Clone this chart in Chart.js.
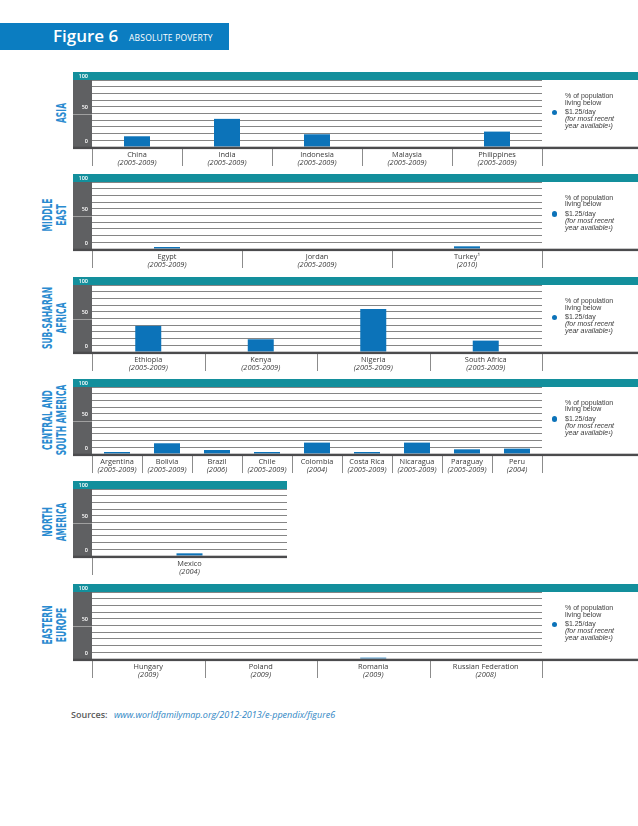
<!DOCTYPE html>
<html>
<head>
<meta charset="utf-8">
<script src="https://cdn.jsdelivr.net/npm/chart.js@4.4.0/dist/chart.umd.min.js"></script>
<style>
  html, body { margin: 0; padding: 0; background: #fff; }
  body { width: 638px; height: 826px; position: relative; overflow: hidden; font-family: "Open Sans", sans-serif; }
  #header { position: absolute; left: 0; top: 23px; width: 229px; height: 27px; background: #0b7dc1; }
  #header .fig { position: absolute; left: 53px; top: 2px; color: #fff; font: 600 17px/22px "Open Sans", sans-serif; }
  #header .ttl { position: absolute; left: 129px; top: 9px; color: #fff; font: 8.5px/12px "Open Sans", sans-serif; letter-spacing: 0.2px; }
  .panel { position: absolute; left: 73px; height: 96px; }
  .region { position: absolute; text-align: center; color: #2a8bd0; white-space: nowrap;
            font-family: "DejaVu Sans Condensed", "DejaVu Sans", sans-serif; font-stretch: condensed;
            font-weight: bold; font-size: 14px; line-height: 14px; width: 120px;
            transform: rotate(-90deg) scaleX(0.6); transform-origin: center; }
  .legend { position: absolute; left: 565px; font: 7px/8px "Liberation Sans", Arial, sans-serif; color: #3c3c3c; }
  .legend div { position: absolute; left: 0; white-space: nowrap; }
  .legend .dot { position: absolute; left: -13.5px; width: 5.5px; height: 5.5px; border-radius: 50%; background: #0c73b9; }
  #sources { position: absolute; left: 71px; top: 709px; font: 600 9px/12px "Open Sans", sans-serif; color: #5a5a5a; }
  #sources i { font-weight: normal; color: #2f86c4; margin-left: 4px; }
</style>
</head>
<body>
<div id="header"><span class="fig">Figure 6</span><span class="ttl">ABSOLUTE POVERTY</span></div>
<div id="sources">Sources: <i>www.worldfamilymap.org/2012-2013/e-ppendix/figure6</i></div>

<script>
// ---- data ----
const yTicks = [0, 50, 100];

const asiaCountries = ['China', 'India', 'Indonesia', 'Malaysia', 'Philippines'];
const asiaYears = ['(2005-2009)', '(2005-2009)', '(2005-2009)', '(2005-2009)', '(2005-2009)'];
const asiaValues = [16, 42, 19, 0, 23];

const meCountries = ['Egypt', 'Jordan', 'Turkey¹'];
const meYears = ['(2005-2009)', '(2005-2009)', '(2010)'];
const meValues = [3, 0, 4];

const ssaCountries = ['Ethiopia', 'Kenya', 'Nigeria', 'South Africa'];
const ssaYears = ['(2005-2009)', '(2005-2009)', '(2005-2009)', '(2005-2009)'];
const ssaValues = [39, 19, 64, 17];

const latCountries = ['Argentina', 'Bolivia', 'Brazil', 'Chile', 'Colombia', 'Costa Rica', 'Nicaragua', 'Paraguay', 'Peru'];
const latYears = ['(2005-2009)', '(2005-2009)', '(2006)', '(2005-2009)', '(2004)', '(2005-2009)', '(2005-2009)', '(2005-2009)', '(2004)'];
const latValues = [3, 16, 6, 3, 17, 3, 17, 7, 8];

const naCountries = ['Mexico'];
const naYears = ['(2004)'];
const naValues = [4];

const eeCountries = ['Hungary', 'Poland', 'Romania', 'Russian Federation'];
const eeYears = ['(2009)', '(2009)', '(2009)', '(2008)'];
const eeValues = [0, 0, 2, 0];

const legendLines = ['% of population', 'living below', '$1.25/day', '(for most recent', 'year available¹)'];

// teal band, grey value column, separators, baseline, category labels
const panelDecor = {
    id: 'panelDecor',
    beforeDraw(chart) {
        const ctx = chart.ctx;
        const a = chart.chartArea;
        const y = chart.scales.y;
        const zero = y.getPixelForValue(0);
        ctx.save();
        ctx.fillStyle = '#138f9c';
        ctx.fillRect(0, 0, chart.width, a.top);
        ctx.fillStyle = '#5f6062';
        ctx.fillRect(0, a.top, a.left, zero - a.top);
        ctx.strokeStyle = '#a0a0a0';
        ctx.lineWidth = 1;
        const y50 = Math.round(y.getPixelForValue(50)) + 0.5;
        ctx.beginPath();
        ctx.moveTo(0, y50);
        ctx.lineTo(a.left, y50);
        ctx.stroke();
        ctx.restore();
    },
    afterDatasetsDraw(chart, args, opts) {
        const ctx = chart.ctx;
        const y = chart.scales.y;
        const x = chart.scales.x;
        const zero = y.getPixelForValue(0);
        const n = chart.data.labels.length;
        ctx.save();
        // separators between categories
        ctx.strokeStyle = '#8c8c8c';
        ctx.lineWidth = 1;
        for (let k = 0; k <= n; k++) {
            const px = Math.round(x.getPixelForValue(k - 0.5)) + 0.5;
            ctx.beginPath();
            ctx.moveTo(px, zero);
            ctx.lineTo(px, chart.height - 2);
            ctx.stroke();
        }
        // dark baseline
        ctx.fillStyle = '#4b4b4d';
        ctx.fillRect(0, zero - 0.3, chart.width, 2.4);
        // value labels
        ctx.fillStyle = '#ffffff';
        ctx.font = '600 5.5px "Open Sans"';
        ctx.textAlign = 'right';
        ctx.textBaseline = 'middle';
        yTicks.forEach(function (v) {
            const py = v === 100 ? chart.chartArea.top / 2 : y.getPixelForValue(v) - 6;
            ctx.fillText(String(v), 15, py);
        });
        // category names and years
        ctx.fillStyle = '#3a3a3a';
        ctx.textAlign = 'center';
        chart.data.labels.forEach(function (name, i) {
            const px = x.getPixelForValue(i);
            ctx.font = '7.4px "Open Sans"';
            ctx.fillText(name, px, zero + 7.5);
            ctx.font = 'italic 7.4px "Open Sans"';
            ctx.fillText(opts.years[i], px, zero + 15.5);
        });
        ctx.restore();
    }
};

function addPanel(top, width, rightPad, names, years, values, region, legend) {
    const box = document.createElement('div');
    box.className = 'panel';
    box.style.top = top + 'px';
    box.style.width = width + 'px';
    const canvas = document.createElement('canvas');
    box.appendChild(canvas);
    document.body.appendChild(box);

    new Chart(canvas.getContext('2d'), {
        type: 'bar',
        data: {
            labels: names,
            datasets: [{
                data: values,
                backgroundColor: '#0c73b9',
                borderWidth: 0,
                inflateAmount: 0,
                barThickness: 26
            }]
        },
        options: {
            responsive: true,
            maintainAspectRatio: false,
            animation: false,
            layout: { padding: { left: 19, right: rightPad, top: 8, bottom: 21 } },
            plugins: {
                legend: { display: false },
                tooltip: { enabled: false },
                panelDecor: { years: years }
            },
            scales: {
                x: {
                    display: false,
                    offset: true
                },
                y: {
                    min: 0,
                    max: 100,
                    ticks: { display: false, stepSize: 10 },
                    grid: { color: '#858585', lineWidth: 1, drawTicks: false },
                    border: { display: false },
                    afterFit: function (s) { s.width = 0; }
                }
            }
        },
        plugins: [panelDecor]
    });

    const r = document.createElement('div');
    r.className = 'region';
    r.innerHTML = region.join('<br>');
    const h = region.length * 14;
    const cx = region.length === 1 ? 60.5 : 53.5;
    r.style.left = (cx - 60) + 'px';
    r.style.top = (top + 41 - h / 2) + 'px';
    r.style.height = h + 'px';
    document.body.appendChild(r);

    if (legend) {
        const lg = document.createElement('div');
        lg.className = 'legend';
        lg.style.top = top + 'px';
        const offs = [24.2, 30.7, 40.3, 47.3, 54.2];
        legendLines.forEach(function (t, i) {
            const d = document.createElement('div');
            d.textContent = t;
            d.style.top = (offs[i] - 4) + 'px';
            if (i >= 3) d.style.fontStyle = 'italic';
            lg.appendChild(d);
        });
        const dot = document.createElement('span');
        dot.className = 'dot';
        dot.style.top = (offs[2] - 2.75) + 'px';
        lg.appendChild(dot);
        document.body.appendChild(lg);
    }
}

addPanel(72, 565, 96, asiaCountries, asiaYears, asiaValues, ['ASIA'], true);
addPanel(173.5, 565, 96, meCountries, meYears, meValues, ['MIDDLE', 'EAST'], true);
addPanel(277, 565, 96, ssaCountries, ssaYears, ssaValues, ['SUB-SAHARAN', 'AFRICA'], true);
addPanel(378.5, 565, 96, latCountries, latYears, latValues, ['CENTRAL AND', 'SOUTH AMERICA'], true);
addPanel(481, 214, 0, naCountries, naYears, naValues, ['NORTH', 'AMERICA'], false);
addPanel(584, 565, 96, eeCountries, eeYears, eeValues, ['EASTERN', 'EUROPE'], true);
</script>
</body>
</html>
